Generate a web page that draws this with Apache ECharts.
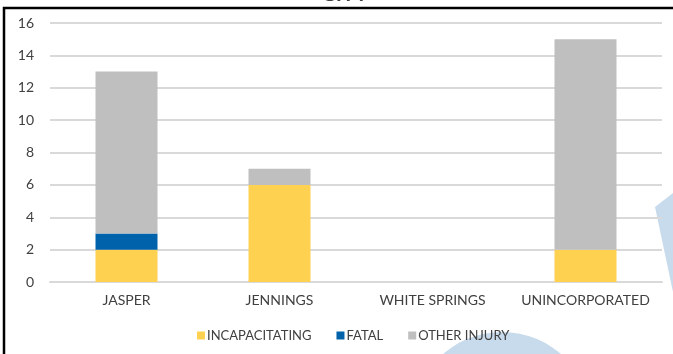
<!DOCTYPE html>
<html>
<head>
<meta charset="utf-8">
<script src="https://cdn.jsdelivr.net/npm/echarts@6/dist/echarts.min.js"></script>
<style>
  html, body { margin: 0; padding: 0; background: #fff; }
  #chart { width: 673px; height: 354px; }
</style>
</head>
<body>
<div id="chart"></div>
<script>
// data
var cities = ["JASPER", "JENNINGS", "WHITE SPRINGS", "UNINCORPORATED"];
var incapacitating = [2, 6, 0, 2];
var fatal = [1, 0, 0, 0];
var otherInjury = [10, 1, 0, 13];

var myChart = echarts.init(document.getElementById("chart"));
var font = "Lato, 'Open Sans', sans-serif";

myChart.setOption({
  animation: false,
  textStyle: { fontFamily: font },
  title: {
    text: "CITY",
    left: 340,
    textAlign: "center",
    top: -21,
    textStyle: { fontSize: 21, fontWeight: "bold", color: "#404040", fontFamily: font }
  },
  graphic: [
    // light blue shapes behind the chart
    { type: "polygon", z: -10, shape: { points: [[655, 207], [673, 193], [673, 292]] }, style: { fill: "#c8dbec" } },
    { type: "circle", z: -10, shape: { cx: 502, cy: 422, r: 90 }, style: { fill: "#c8dbec" } },
    { type: "rect", z: -5, shape: { x: 4, y: 8, width: 720, height: 400 }, style: { fill: "none", stroke: "#000", lineWidth: 2.5 } }
  ],
  legend: {
    bottom: 7,
    left: 192,
    itemWidth: 8,
    itemHeight: 8,
    itemGap: 25,
    icon: "rect",
    textStyle: { fontSize: 13, color: "#404040", padding: [0, 0, 0, -3] },
    data: ["INCAPACITATING", "FATAL", "OTHER INJURY"]
  },
  grid: { left: 50, right: 11, top: 23, bottom: 72 },
  xAxis: {
    type: "category",
    data: cities,
    axisLine: { lineStyle: { color: "#d9d9d9", width: 2 } },
    axisTick: { show: false },
    axisLabel: { fontSize: 14, color: "#404040", margin: 11, interval: 0 }
  },
  yAxis: {
    type: "value",
    min: 0,
    max: 16,
    interval: 2,
    axisLine: { show: false },
    axisTick: { show: false },
    axisLabel: { fontSize: 14, color: "#404040", margin: 16 },
    splitLine: { lineStyle: { color: "#d9d9d9", width: 2 } }
  },
  series: [
    {
      name: "INCAPACITATING",
      type: "bar",
      stack: "total",
      barWidth: 62,
      itemStyle: { color: "#ffd150" },
      data: incapacitating
    },
    {
      name: "FATAL",
      type: "bar",
      stack: "total",
      barWidth: 62,
      itemStyle: { color: "#0062ab" },
      data: fatal
    },
    {
      name: "OTHER INJURY",
      type: "bar",
      stack: "total",
      barWidth: 62,
      itemStyle: { color: "#bfbfbf" },
      data: otherInjury
    }
  ]
});
</script>
</body>
</html>
